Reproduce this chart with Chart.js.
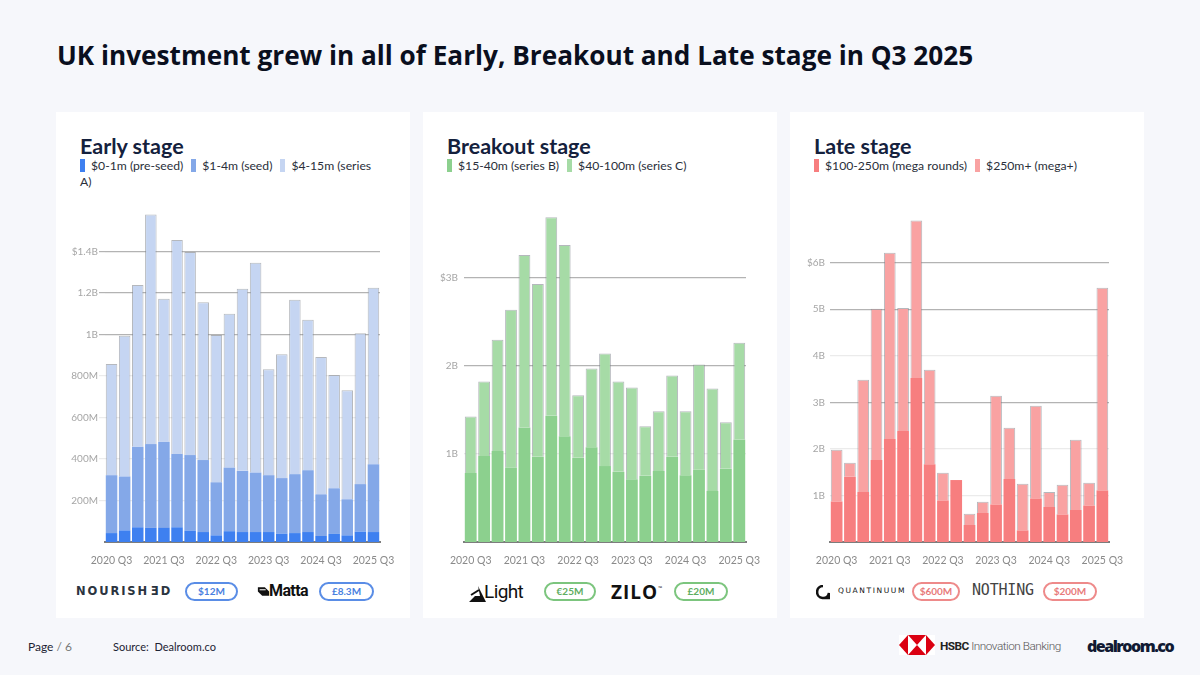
<!DOCTYPE html>
<html>
<head>
<meta charset="utf-8">
<script src="https://cdn.jsdelivr.net/npm/chart.js@4.4.0/dist/chart.umd.min.js"></script>
<style>
  html,body{margin:0;padding:0;}
  body{width:1200px;height:675px;background:#f6f7fb;position:relative;overflow:hidden;font-family:Lato,"Open Sans",sans-serif;}
  h1{position:absolute;left:57px;top:37px;margin:0;font-family:"Open Sans",sans-serif;font-weight:700;font-size:26.2px;color:#0a0f1e;letter-spacing:0;white-space:nowrap;}
  .panel{position:absolute;top:112px;width:354px;height:506px;background:#fff;}
  .ptitle{position:absolute;left:24px;top:21px;font-family:Lato,sans-serif;font-weight:700;font-size:21.5px;color:#14213d;}
  .legend{position:absolute;left:24px;top:46px;width:306px;font-family:Lato,sans-serif;font-size:12.2px;color:#2a2f3a;line-height:16px;}
  .legend span.sw{display:inline-block;width:5px;height:13px;vertical-align:-2px;margin-right:6px;}
  .legend span.it{margin-right:8px;}
  .cv{position:absolute;left:0;top:88px;width:354px;height:370px;}
  .logos{position:absolute;left:0;top:464px;width:354px;height:36px;}
  .pill{position:absolute;top:6px;height:15px;border:2px solid;border-radius:10px;font-family:Lato,sans-serif;font-weight:700;font-size:10px;line-height:15px;text-align:center;}
  .foot{position:absolute;top:639px;font-family:Lato,sans-serif;font-size:12px;color:#1d2333;}
</style>
</head>
<body>
<h1>UK investment grew in all of Early, Breakout and Late stage in Q3 2025</h1>

<div class="panel" style="left:56px">
  <div class="ptitle">Early stage</div>
  <div class="legend" id="lg0"></div>
  <div class="cv"><canvas id="c0"></canvas></div>
  <div class="logos">
    <div style="position:absolute;left:20px;top:8px;font-family:'DejaVu Sans',sans-serif;font-weight:600;font-size:11.5px;letter-spacing:1.9px;color:#2b3440;white-space:nowrap;">NOURISH<span style="display:inline-block;transform:scaleX(-1);margin-right:1.9px;">E</span>D</div>
    <div class="pill" style="left:129px;width:49px;border-color:#5a8de6;color:#4a7fe0;">$12M</div>
    <svg style="position:absolute;left:201px;top:9px" width="13" height="13" viewBox="0 0 15 14"><path d="M1 2 L9 2 L14 7 L14 12 L6 12 L1 7 Z" fill="#111"/><path d="M3 5 L10 5" stroke="#fff" stroke-width="1.2"/></svg>
    <div style="position:absolute;left:213px;top:5px;font-family:Roboto,sans-serif;font-weight:700;font-size:16px;letter-spacing:-0.6px;color:#111;">Matta</div>
    <div class="pill" style="left:263px;width:51px;border-color:#5a8de6;color:#4a7fe0;">£8.3M</div>
  </div>
</div>

<div class="panel" style="left:423px">
  <div class="ptitle">Breakout stage</div>
  <div class="legend" id="lg1"></div>
  <div class="cv"><canvas id="c1"></canvas></div>
  <div class="logos">
    <svg style="position:absolute;left:46px;top:10px" width="17" height="16" viewBox="0 0 17 16"><path d="M9 0 L17 16 L0 16 L6 10 L11 10 Z" fill="#111"/><path d="M2 9 L10 4" stroke="#111" stroke-width="2"/></svg>
    <div style="position:absolute;left:61px;top:4px;font-family:Roboto,sans-serif;font-weight:400;font-size:19px;letter-spacing:-0.6px;color:#111;">Light</div>
    <div class="pill" style="left:121px;width:48px;border-color:#7cc57e;color:#5fae62;">€25M</div>
    <div style="position:absolute;left:188px;top:3px;font-family:'Open Sans',sans-serif;font-weight:700;font-size:19px;letter-spacing:1px;color:#111;">ZILO<sup style="font-size:5px;vertical-align:9px;">™</sup></div>
    <div class="pill" style="left:251px;width:50px;border-color:#7cc57e;color:#5fae62;">£20M</div>
  </div>
</div>

<div class="panel" style="left:790px">
  <div class="ptitle">Late stage</div>
  <div class="legend" id="lg2"></div>
  <div class="cv"><canvas id="c2"></canvas></div>
  <div class="logos">
    <svg style="position:absolute;left:26px;top:9px" width="14" height="15" viewBox="0 0 14 15"><path d="M7 1 A6 6 0 1 0 13 8 L13 13 L8 13" fill="none" stroke="#111" stroke-width="2.6"/></svg>
    <div style="position:absolute;left:48px;top:10px;font-family:'DejaVu Sans',sans-serif;font-size:7.5px;letter-spacing:1.6px;color:#111;">QUANTINUUM</div>
    <div class="pill" style="left:122px;width:44px;border-color:#ee8a8a;color:#e87b7b;">$600M</div>
    <div style="position:absolute;left:182px;top:5px;font-family:'DejaVu Sans Mono',monospace;font-size:15px;letter-spacing:-0.2px;color:#444;">NOTHING</div>
    <div class="pill" style="left:253px;width:50px;border-color:#ee8a8a;color:#e87b7b;">$200M</div>
  </div>
</div>

<div class="foot" style="left:28px;"><span style="color:#1d2333">Page</span> <span style="color:#777">/ 6</span></div>
<div class="foot" style="left:113px;font-size:11px;top:640px;">Source:&nbsp; Dealroom.co</div>
<svg style="position:absolute;left:899px;top:635px" width="36" height="20" viewBox="0 0 36 20">
  <rect x="0" y="0" width="36" height="20" fill="#fff"/>
  <polygon points="0,10 9,0 9,20" fill="#db0011"/>
  <polygon points="36,10 27,0 27,20" fill="#db0011"/>
  <polygon points="9,0 27,0 18,10" fill="#db0011"/>
  <polygon points="9,20 27,20 18,10" fill="#db0011"/>
</svg>
<div style="position:absolute;left:940px;top:639px;font-family:Roboto,sans-serif;font-size:11.8px;color:#222;letter-spacing:-0.5px;"><b>HSBC</b><span style="color:#555;font-weight:300"> Innovation Banking</span></div>
<div style="position:absolute;left:1087px;top:635px;font-family:'Open Sans',sans-serif;font-weight:800;font-size:16px;color:#111a33;letter-spacing:-1.5px;">dealroom.co</div>

<script>
// ---------- DATA (values in $ millions) ----------
const quarters = ["2020 Q3","2020 Q4","2021 Q1","2021 Q2","2021 Q3","2021 Q4","2022 Q1","2022 Q2","2022 Q3","2022 Q4","2023 Q1","2023 Q2","2023 Q3","2023 Q4","2024 Q1","2024 Q2","2024 Q3","2024 Q4","2025 Q1","2025 Q2","2025 Q3"];

// Early stage
const preSeed = [43,56,71,68,68,71,55,48,32,52,48,48,48,40,43,48,29,39,32,50,48];
const seed    = [279,260,388,404,415,353,364,347,256,307,295,287,274,268,284,298,201,220,174,229,327];
const seriesA = [536,678,779,1106,689,1032,979,761,709,741,878,1011,511,597,840,725,662,546,525,727,850];

// Breakout stage
const seriesB = [782,974,1030,846,1297,966,1432,1199,955,1075,861,797,711,752,805,966,756,820,579,831,1162];
const seriesC = [639,846,1263,1786,1955,1959,2248,2166,707,891,1274,1023,1041,560,676,921,725,1191,1162,526,1097];

// Late stage
const megaRounds = [873,1403,1074,1761,2212,2384,3522,1668,895,1331,365,623,809,1353,251,938,752,594,687,787,1110];
const megaPlus   = [1110,301,2412,3250,4001,2641,3386,2033,594,0,243,243,2333,1102,1002,1990,322,637,1511,487,4352];

// Tick labels (values, $M)
const earlyTicks = [200,400,600,800,1000,1200,1400];
const breakoutTicks = [1000,2000,3000];
const lateTicks = [1000,2000,3000,4000,5000,6000];

// ---------- helpers ----------
function fmt(v, top){
  const s = v < 1000 ? v + 'M' : (v/1000) + 'B';
  return (v === top ? '$' : '') + s;
}

function legend(id, items){
  document.getElementById(id).innerHTML = items.map(it =>
    `<span class="it"><span class="sw" style="background:${it[1]}"></span>${it[0]}</span>`).join('');
}

function makeChart(id, sets, ticks, max, darkLines, cfg){
  const top = ticks[ticks.length-1];
  return new Chart(document.getElementById(id), {
    type: 'bar',
    data: {
      labels: quarters,
      datasets: sets.map((s, i) => ({
        label: s.label,
        data: s.data,
        backgroundColor: s.color,
        borderColor: i === sets.length-1 ? 'rgba(120,125,135,0.55)' : 'rgba(0,0,0,0)',
        borderWidth: i === sets.length-1 ? {top:1,left:1,right:1,bottom:0} : 0,
        borderSkipped: false,
        barPercentage: 0.88,
        categoryPercentage: 1.0
      }))
    },
    options: {
      responsive: false,
      animation: false,
      devicePixelRatio: 1,
      layout: { padding: { top: 10, right: cfg.right, left: 0, bottom: 0 } },
      plugins: { legend: { display: false }, tooltip: { enabled: false } },
      scales: {
        x: {
          stacked: true,
          grid: { display: false },
          border: { display: true, color: '#7d7d7d', width: 2 },
          ticks: {
            autoSkip: false, maxRotation: 0, padding: 4,
            color: '#8a8a8a', font: { family: 'Lato', size: 10.5 },
            callback: (v, i) => (i % 4 === 0 ? quarters[i] : '')
          },
          afterFit: s => { s.height = 28; }
        },
        y: {
          stacked: true, min: 0, max: max,
          border: { display: false },
          grid: {
            color: c => darkLines.includes(c.tick && c.tick.value) ? '#b3b3b3' : '#ebebeb',
            lineWidth: 1.2,
            drawTicks: cfg.tickLen > 0,
            tickLength: cfg.tickLen
          },
          ticks: {
            padding: cfg.pad, color: '#a6a6a6', font: { family: 'Lato', size: 10 },
            callback: v => fmt(v, top)
          },
          afterBuildTicks: s => { s.ticks = ticks.map(v => ({ value: v })); },
          afterFit: s => { s.width = cfg.left; }
        }
      }
    }
  });
}

function setCanvas(id){
  const c = document.getElementById(id);
  c.width = 354; c.height = 370;
  c.style.width = '354px'; c.style.height = '370px';
}
['c0','c1','c2'].forEach(setCanvas);

const cE = ['#3e80f0','#84a8e8','#c5d5f2'];
const cB = ['#8cd08e','#a6dba6'];
const cL = ['#f77e7f','#f9a2a2'];

legend('lg0', [['$0-1m (pre-seed)', cE[0]], ['$1-4m (seed)', cE[1]], ['$4-15m (series A)', cE[2]]]);
legend('lg1', [['$15-40m (series B)', cB[0]], ['$40-100m (series C)', cB[1]]]);
legend('lg2', [['$100-250m (mega rounds)', cL[0]], ['$250m+ (mega+)', cL[1]]]);

makeChart('c0', [
  {label:'$0-1m (pre-seed)', data: preSeed, color: cE[0]},
  {label:'$1-4m (seed)', data: seed, color: cE[1]},
  {label:'$4-15m (series A)', data: seriesA, color: cE[2]}
], earlyTicks, 1600, [1000,1200,1400], {left:49, right:30, tickLen:6, pad:1});

makeChart('c1', [
  {label:'$15-40m (series B)', data: seriesB, color: cB[0]},
  {label:'$40-100m (series C)', data: seriesC, color: cB[1]}
], breakoutTicks, 3740, [2000,3000], {left:41, right:31, tickLen:0, pad:6});

makeChart('c2', [
  {label:'$100-250m (mega rounds)', data: megaRounds, color: cL[0]},
  {label:'$250m+ (mega+)', data: megaPlus, color: cL[1]}
], lateTicks, 7110, [3000,5000,6000], {left:40, right:35, tickLen:0, pad:5});
</script>
</body>
</html>
